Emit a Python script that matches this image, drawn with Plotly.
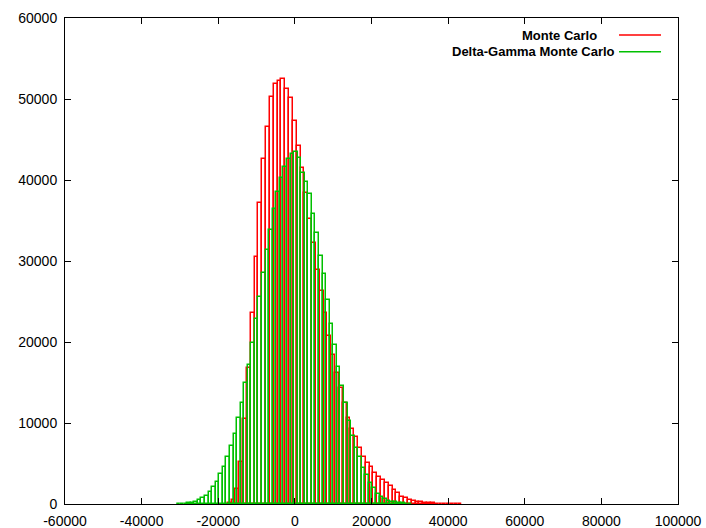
import plotly.graph_objects as go

# ---------------- data ----------------
x_tick_values = [-60000, -40000, -20000, 0, 20000, 40000, 60000, 80000, 100000]
x_tick_labels = ["-60000", "-40000", "-20000", "0", "20000", "40000", "60000", "80000", "100000"]
y_tick_values = [0, 10000, 20000, 30000, 40000, 50000, 60000]
y_tick_labels = ["0", "10000", "20000", "30000", "40000", "50000", "60000"]

series_names = ["Monte Carlo", "Delta-Gamma Monte Carlo"]

# Monte Carlo histogram (bin width 1000)
mc_bin_width = 1000
mc_bin_centers = list(range(-17000, 44000, 1000))
mc_counts = [
    150, 490, 1800, 5150, 10450, 16850, 23540, 30450, 37200, 42600,      # -17000 .. -8000
    46580, 50280, 51850, 52260, 52430, 51200, 50080, 47320, 44200, 41440,  # -7000 .. 2000
    38430, 35200, 32180, 28890, 26330, 23540, 20780, 18400, 16130, 14360,  # 3000 .. 12000
    12430, 10580, 9220, 8230, 6880, 5840, 5020, 4530, 3870, 3370,          # 13000 .. 22000
    2960, 2550, 2220, 1730, 1320, 900, 700, 490, 370, 280,                 # 23000 .. 32000
    200, 150, 120, 90, 60, 40, 30, 20, 0, 30, 20,                          # 33000 .. 43000
]

# Delta-Gamma Monte Carlo histogram (bin width ~930)
dg_bin_width = 930
dg_bin_centers = [260 + 930 * k for k in range(-33, 33)]
dg_counts = [
    20, 30, 40, 80, 150, 280, 490, 700, 1030, 1520,                       # k=-33 .. -24
    2140, 2750, 3700, 4600, 5840, 7200, 8640, 10580, 12430, 14900,        # k=-23 .. -14
    17120, 19920, 22800, 25600, 28560, 31360, 33830, 36380, 38560, 40210, # k=-13 .. -4
    41650, 42550, 43210, 43460,                                           # k=-3 .. 0
    42680, 40900, 39790, 38270, 35800, 33420, 30620, 28400, 25190, 22220, # k=1 .. 10
    19630, 16870, 14570, 12430, 10280, 8400, 6880, 5760, 4480, 3580,      # k=11 .. 20
    2630, 1940, 1230, 900, 620, 410, 280, 200, 150, 90, 60, 40,           # k=21 .. 32
]

RED = "#ff0000"
GREEN = "#00c000"
FONT = "Liberation Sans, Arial, sans-serif"

fig = go.Figure()
fig.add_trace(go.Bar(
    x=mc_bin_centers, y=mc_counts, width=mc_bin_width, name=series_names[0],
    marker=dict(color="rgba(0,0,0,0)", line=dict(color=RED, width=1.5)),
    showlegend=False,
))
fig.add_trace(go.Bar(
    x=dg_bin_centers, y=dg_counts, width=dg_bin_width, name=series_names[1],
    marker=dict(color="rgba(0,0,0,0)", line=dict(color=GREEN, width=1.5)),
    showlegend=False,
))

axis_common = dict(
    showgrid=False, zeroline=False, showline=True, linecolor="black", linewidth=1,
    mirror="allticks", ticks="inside", ticklen=6, tickcolor="black", tickwidth=1,
    tickfont=dict(family=FONT, size=14, color="black"), automargin=False,
)

fig.update_layout(
    width=706, height=528,
    margin=dict(l=65, r=28, t=18, b=24),
    paper_bgcolor="white", plot_bgcolor="white",
    barmode="overlay", bargap=0,
    xaxis=dict(range=[-60000, 100000], tickmode="array", tickvals=x_tick_values,
               ticktext=x_tick_labels, ticklabelstandoff=4, **axis_common),
    yaxis=dict(range=[0, 60000], tickmode="array", tickvals=y_tick_values,
               ticktext=y_tick_labels, ticklabelstandoff=4, **axis_common),
)

# gnuplot-style key (text right-justified, sample line to the right)
key_rows = [(0.965, RED, 0.8711), (0.9307, GREEN, 0.9005)]
for (ky, col, tx), name in zip(key_rows, series_names):
    fig.add_annotation(x=tx, y=ky, xref="paper", yref="paper", text="<b>%s</b>" % name,
                       showarrow=False, xanchor="right", yanchor="middle",
                       font=dict(family=FONT, size=13, color="black"))
    fig.add_shape(type="line", xref="paper", yref="paper", x0=0.9038, x1=0.9723,
                  y0=ky, y1=ky, line=dict(color=col, width=1.5))

post = (
    "document.body.style.margin='0';"
    "document.body.style.overflow='hidden';"
)
fig.write_html("out.html", config={"displayModeBar": False}, post_script=post)
